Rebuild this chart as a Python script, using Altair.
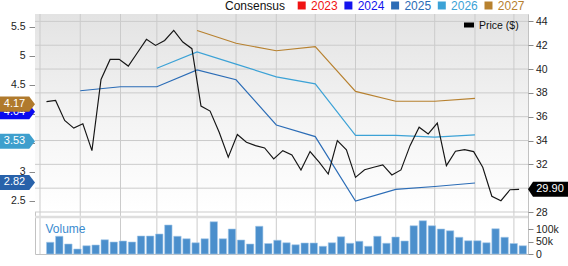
import altair as alt
import pandas as pd

# ---------------- data ----------------
week_dates = [
    "2024-12-06", "2024-12-13", "2024-12-20", "2024-12-27",
    "2025-01-03", "2025-01-10", "2025-01-17", "2025-01-24", "2025-01-31",
    "2025-02-07", "2025-02-14", "2025-02-21", "2025-02-28",
    "2025-03-07", "2025-03-14", "2025-03-21", "2025-03-28",
    "2025-04-04", "2025-04-11", "2025-04-18", "2025-04-25",
    "2025-05-02", "2025-05-09", "2025-05-16", "2025-05-23", "2025-05-30",
    "2025-06-06", "2025-06-13", "2025-06-20", "2025-06-27",
    "2025-07-04", "2025-07-11", "2025-07-18", "2025-07-25",
    "2025-08-01", "2025-08-08", "2025-08-15", "2025-08-22", "2025-08-29",
    "2025-09-05", "2025-09-12", "2025-09-19", "2025-09-26",
    "2025-10-03", "2025-10-10", "2025-10-17", "2025-10-24", "2025-10-31",
    "2025-11-07", "2025-11-14", "2025-11-21", "2025-11-28",
    "2025-12-05",
]
prices = [
    37.27, 37.36, 35.68, 35.04,
    35.40, 33.15, 39.12, 40.81, 40.81,
    40.25, 41.37, 42.49, 41.98,
    42.40, 43.24, 42.27, 41.71,
    36.89, 36.47, 34.70, 32.60,
    34.50, 33.86, 33.57, 33.38, 32.45,
    33.15, 32.79, 31.53, 33.07,
    32.18, 31.19, 33.99, 33.21,
    30.91, 31.55, 31.76, 31.95, 31.11,
    31.53, 33.57, 35.12, 34.56,
    35.46, 31.89, 33.10, 33.24, 33.07,
    31.76, 29.32, 28.95, 29.87,
    29.90,
]
volumes = [
    47000, 71000, 40000, 20000,
    33000, 36000, 57000, 48000, 52000,
    48000, 72000, 72000, 80000,
    116000, 71000, 61000, 45000,
    61000, 129000, 61000, 100000,
    56000, 40000, 111000, 42000, 55000,
    45000, 37000, 44000, 44000,
    31000, 45000, 69000, 43000,
    51000, 31000, 71000, 43000, 68000,
    52000, 113000, 133000, 113000,
    100000, 93000, 67000, 53000, 53000,
    45000, 101000, 67000, 42000,
    33000,
]

eps_2025_dates = ["2025-01-01", "2025-02-01", "2025-03-01", "2025-04-01", "2025-05-01",
                  "2025-06-01", "2025-07-01", "2025-08-01", "2025-09-01", "2025-10-01",
                  "2025-11-01"]
eps_2025 = [4.40, 4.47, 4.47, 4.76, 4.59, 3.81, 3.61, 2.50, 2.70, 2.75, 2.81]
eps_2026_dates = ["2025-03-01", "2025-04-01", "2025-05-01", "2025-06-01", "2025-07-01",
                  "2025-08-01", "2025-09-01", "2025-10-01", "2025-11-01"]
eps_2026 = [4.79, 5.07, 4.86, 4.64, 4.52, 3.63, 3.63, 3.60, 3.64]
eps_2027_dates = ["2025-04-01", "2025-05-01", "2025-06-01", "2025-07-01",
                  "2025-08-01", "2025-09-01", "2025-10-01", "2025-11-01"]
eps_2027 = [5.44, 5.22, 5.09, 5.16, 4.39, 4.22, 4.22, 4.27]

legend_years = ["2023", "2024", "2025", "2026", "2027"]
legend_colors = ["#f01414", "#1414ee", "#2b6cb6", "#3ca2d6", "#b7812f"]

tag_years = ["2025", "2026", "2024", "2027"]
tag_values = [2.82, 3.53, 4.04, 4.17]
tag_colors = ["#2862aa", "#3e9fcd", "#0a0af0", "#b07a2d"]

last_price = 29.90

month_ticks = [(2024, 12)] + [(2025, m) for m in range(1, 13)]
price_ticks = [28, 30, 32, 34, 36, 38, 40, 42, 44]
eps_ticks = [2.5, 3, 3.5, 4, 4.5, 5, 5.5]
vol_ticks = [0, 50000, 100000]

# ---------------- layout constants ----------------
W, H = 493, 240
MAIN_H = 198
FONT = "Liberation Sans"
GRID = "#cbcbcb"


def dt(y, m, d):
    return alt.DateTime(year=y, month=m, date=d, utc=True)


x_scale = alt.Scale(type="utc", domain=[dt(2024, 12, 1), dt(2025, 12, 8)], nice=False)
price_scale = alt.Scale(domain=[28, 44.62], range=[MAIN_H, 0], nice=False, zero=False)
eps_scale = alt.Scale(domain=[2.31, 5.724], range=[MAIN_H, 0], nice=False, zero=False)
vol_scale = alt.Scale(domain=[0, 144000], range=[H, 204], nice=False, zero=False)
color_scale = alt.Scale(domain=legend_years, range=legend_colors)

weekly = pd.DataFrame({"date": week_dates, "price": prices, "vol": volumes})
cons = pd.concat([
    pd.DataFrame({"date": eps_2025_dates, "eps": eps_2025, "series": "2025"}),
    pd.DataFrame({"date": eps_2026_dates, "eps": eps_2026, "series": "2026"}),
    pd.DataFrame({"date": eps_2027_dates, "eps": eps_2027, "series": "2027"}),
])
one = pd.DataFrame({"a": [0]})

gradient = alt.LinearGradient(
    gradient="linear", x1=0, x2=0, y1=0, y2=1,
    stops=[alt.GradientStop(color="#e3e3e3", offset=0),
           alt.GradientStop(color="#f3f3f3", offset=0.5),
           alt.GradientStop(color="#ffffff", offset=1)],
)

layers = []

# background of the price panel
layers.append(alt.Chart(one).mark_rect(color=gradient).encode(
    x=alt.value(0), x2=alt.value(W), y=alt.value(0), y2=alt.value(MAIN_H)))

# vertical grid + month axis
month_df = pd.DataFrame({"m": [f"{y}-{m:02d}-01" for y, m in month_ticks]})
layers.append(alt.Chart(month_df).mark_rule(color=GRID, strokeWidth=1).encode(
    x=alt.X("m:T", scale=x_scale, axis=alt.Axis(
        values=[dt(y, m, 1) for y, m in month_ticks], grid=False, ticks=False, domain=False,
        labelPadding=2, labelFlush=False, labelOverlap=False, title=None, zindex=0,
        labelFontSize=10.5)),
    y=alt.value(0), y2=alt.value(H)))

# horizontal grid + price axis (the 30 label sits under the price tag)
layers.append(alt.Chart(pd.DataFrame({"p": price_ticks})).mark_rule(color=GRID, strokeWidth=1).encode(
    x=alt.value(0), x2=alt.value(W),
    y=alt.Y("p:Q", scale=price_scale, axis=alt.Axis(
        orient="right", values=price_ticks, grid=False, domain=False, tickSize=5,
        labelPadding=2.5, title=None, zindex=0,
        labelExpr="datum.value == 30 ? '' : datum.value + ''"))))

# separator band between panels
layers.append(alt.Chart(one).mark_rect(color="#dedede").encode(
    x=alt.value(0), x2=alt.value(W), y=alt.value(201.7), y2=alt.value(204.3)))

# volume bars
layers.append(alt.Chart(weekly).mark_bar(color="#4b8fcc", width=7.4, xOffset=3.7,
                                         stroke="#a6c9ea", strokeWidth=0.6).encode(
    x=alt.X("date:T", scale=x_scale, axis=None),
    y=alt.Y("vol:Q", scale=vol_scale, axis=alt.Axis(
        orient="right", values=vol_ticks, grid=False, domain=False, tickSize=5,
        labelPadding=2.5, title=None, zindex=0,
        labelExpr="datum.value == 0 ? '0' : (datum.value / 1000) + 'k'"))))

layers.append(alt.Chart(one).mark_text(text="Volume", font=FONT, fontSize=12, color="#3a8bd0",
                                       align="left", baseline="alphabetic").encode(
    x=alt.value(10.5), y=alt.value(219)))

# consensus lines (3.5 and 4 labels sit under the value tags)
layers.append(alt.Chart(cons).mark_line(strokeWidth=1.15).encode(
    x=alt.X("date:T", scale=x_scale, axis=None),
    y=alt.Y("eps:Q", scale=eps_scale, axis=alt.Axis(
        orient="left", values=eps_ticks, grid=False, domain=False, tickSize=6,
        labelPadding=4, title=None, zindex=0,
        labelExpr="(datum.value == 3.5 || datum.value == 4) ? '' : datum.value + ''")),
    color=alt.Color("series:N", scale=color_scale, legend=None)))

# price line
layers.append(alt.Chart(weekly).mark_line(color="#151515", strokeWidth=1.15).encode(
    x=alt.X("date:T", scale=x_scale, axis=None),
    y=alt.Y("price:Q", scale=price_scale, axis=None)))

# left value tags
LEFT_TAG = "M-1,-0.43L0.67,-0.43L1,0L0.67,0.43L-1,0.43Z"
for yr, val, col in zip(tag_years, tag_values, tag_colors):
    d = pd.DataFrame({"v": [val]})
    layers.append(alt.Chart(d).mark_point(shape=LEFT_TAG, size=1225, filled=True, opacity=1,
                                          color=col, strokeWidth=0).encode(
        x=alt.value(-17.5), y=alt.Y("v:Q", scale=eps_scale, axis=None)))
    layers.append(alt.Chart(d).mark_text(font=FONT, fontSize=11, color="white",
                                         align="center", baseline="middle").encode(
        x=alt.value(-20.5), y=alt.Y("v:Q", scale=eps_scale, axis=None),
        text=alt.Text("v:Q", format=".2f")))

# right price tag
RIGHT_TAG = "M-1,0L-0.75,-0.375L1,-0.375L1,0.375L-0.75,0.375Z"
pdf = pd.DataFrame({"p": [last_price]})
layers.append(alt.Chart(pdf).mark_point(shape=RIGHT_TAG, size=1600, filled=True, opacity=1,
                                        color="#000000", strokeWidth=0).encode(
    x=alt.value(W + 20), y=alt.Y("p:Q", scale=price_scale, axis=None)))
layers.append(alt.Chart(pdf).mark_text(font=FONT, fontSize=11, color="white",
                                       align="center", baseline="middle").encode(
    x=alt.value(W + 22), y=alt.Y("p:Q", scale=price_scale, axis=None),
    text=alt.Text("p:Q", format=".2f")))

# top legend
layers.append(alt.Chart(one).mark_text(text="Consensus", font=FONT, fontSize=12, color="#111",
                                       align="left", baseline="alphabetic").encode(
    x=alt.value(190), y=alt.value(-4.5)))
for i, (yr, col) in enumerate(zip(legend_years, legend_colors)):
    tx = 276 + 46.7 * i
    layers.append(alt.Chart(one).mark_square(size=64, filled=True, opacity=1, color=col).encode(
        x=alt.value(tx - 9.3), y=alt.value(-8.5)))
    layers.append(alt.Chart(one).mark_text(text=yr, font=FONT, fontSize=12, color=col,
                                           align="left", baseline="alphabetic").encode(
        x=alt.value(tx), y=alt.value(-4.5)))

# price legend
layers.append(alt.Chart(one).mark_point(shape="M-1,-0.5L1,-0.5L1,0.5L-1,0.5Z", size=100,
                                        filled=True, opacity=1, color="#000").encode(
    x=alt.value(434), y=alt.value(11)))
layers.append(alt.Chart(one).mark_text(text="Price ($)", font=FONT, fontSize=10.5, color="#111",
                                       align="left", baseline="alphabetic").encode(
    x=alt.value(444), y=alt.value(15)))

chart = alt.layer(*layers).resolve_scale(y="independent").properties(
    width=W, height=H,
    autosize=alt.AutoSizeParams(type="none"),
    padding={"left": 35, "top": 14, "right": 40, "bottom": 12},
    background="white",
).configure_view(stroke="#c2c2c2", strokeWidth=1).configure_axis(
    labelFont=FONT, labelFontSize=10.5, labelColor="#222", tickColor="#8a8a8a",
)

chart.save("out.html", embed_options={"renderer": "svg", "actions": False})
